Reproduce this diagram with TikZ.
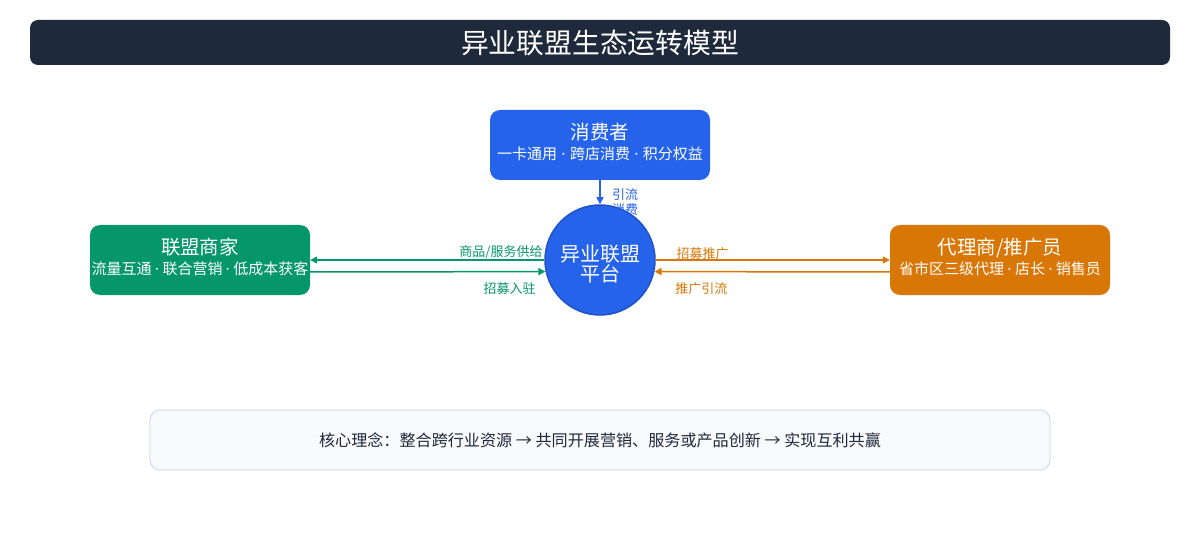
\documentclass[tikz,border=0pt]{standalone}
\usepackage{fontspec}
\setmainfont{Noto Sans CJK SC}
\newfontfamily\latinfont{DejaVu Sans}
\usetikzlibrary{arrows.meta,positioning,calc}
\definecolor{navy}{HTML}{1E293B}
\definecolor{pblue}{HTML}{2563EB}
\definecolor{pgreen}{HTML}{059669}
\definecolor{porange}{HTML}{D97706}
\definecolor{noteback}{HTML}{F8FAFC}
\definecolor{noteline}{HTML}{CBD5E1}
% separator dot between the keywords of a box
\newcommand{\dotsep}[1][3pt]{\hspace{#1}{\latinfont ·}\hspace{#1}}

\begin{document}
\begin{tikzpicture}[x=1pt, y=-1pt,
  box/.style={rounded corners=10pt, minimum width=220pt, minimum height=70pt, align=center, text=white, inner sep=0pt, font=\fontsize{19.5}{24}\selectfont},
  arr/.style={-{Triangle[length=7pt,width=7pt]}, line width=1.5pt},
  lbl/.style={font=\fontsize{13}{15}\selectfont, inner sep=1pt}
]
  \fill[white] (0,0) rectangle (1200,540);
  \useasboundingbox (0,0) rectangle (1200,540);

  \node[fill=navy, rounded corners=8pt, minimum width=1140pt, minimum height=45pt, text=white, font=\fontsize{27.8}{30}\selectfont] (title) at (600,42.5) {异业联盟生态运转模型};

  \node[box, fill=pblue] (cons) at (600,145) {消费者\\[-4pt]{\fontsize{15}{17}\selectfont 一卡通用\dotsep[4pt]跨店消费\dotsep[4pt]积分权益\rule[-8pt]{0pt}{8pt}}};
  \node[lbl, text=pblue, align=left, anchor=north west] (flowlbl) at (611,187) {引流\\消费};
  \node[circle, fill=pblue, draw=pblue!85!black, line width=1.5pt, minimum size=110pt, inner sep=0pt, text=white, align=center, font=\fontsize{20}{20}\selectfont] (plat) at (600,260) {\rule{0pt}{24pt}异业联盟\\平台};
  \node[box, fill=pgreen] (merch) at (200,260) {联盟商家\\[-4pt]{\fontsize{15}{17}\selectfont 流量互通\dotsep 联合营销\dotsep 低成本获客\rule[-8pt]{0pt}{8pt}}};
  \node[box, fill=porange] (agent) at (1000,260) {代理商/推广员\\[-4pt]{\fontsize{15}{17}\selectfont 省市区三级代理\dotsep 店长\dotsep 销售员\rule[-8pt]{0pt}{8pt}}};

  \draw[arr, pblue] (cons) -- (plat);
  \draw[arr, pgreen] (plat.west) -- (merch.east) node[lbl, pos=0, above left, text=pgreen, yshift=-1pt] (supplylbl) {商品/服务供给};
  \draw[arr, pgreen] ($(merch.east)+(0,12)$) -- (plat.192.6) node[lbl, pos=1, below left, text=pgreen, xshift=-8pt, yshift=-9pt] (joinlbl) {招募入驻};
  \draw[arr, porange] (plat.east) -- (agent.west) node[lbl, pos=0, above right, text=porange, xshift=19pt, yshift=-1pt] (recruitlbl) {招募推广};
  \draw[arr, porange] ($(agent.west)+(0,12)$) -- (plat.-12.6) node[lbl, pos=1, below right, text=porange, xshift=19pt, yshift=-9pt] (promolbl) {推广引流};

  \node[draw=noteline, fill=noteback, rounded corners=10pt, minimum width=900pt, minimum height=60pt, line width=0.8pt, text=navy, font=\fontsize{16.1}{19}\selectfont] (idea) at (600,440) {核心理念：整合跨行业资源 → 共同开展营销、服务或产品创新 → 实现互利共赢};
\end{tikzpicture}
\end{document}
